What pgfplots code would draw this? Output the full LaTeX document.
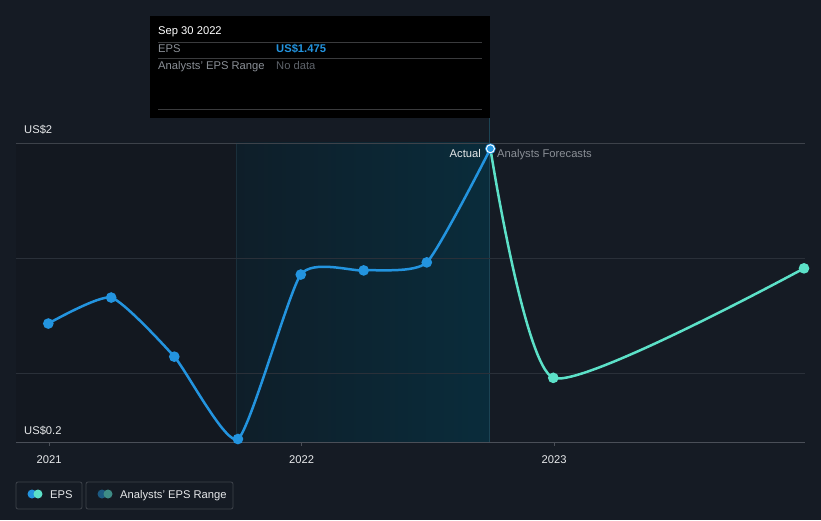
\documentclass[border=0pt]{standalone}
\usepackage{fontspec}
\setmainfont{Liberation Sans}
\usepackage{pgfplots}
\pgfplotsset{compat=1.18}
\definecolor{bgc}{HTML}{151B24}
\definecolor{leftc}{HTML}{131820}
\definecolor{hlL}{HTML}{0E1E29}
\definecolor{hlR}{HTML}{0A2C3B}
\definecolor{vlc}{HTML}{1C4454}
\definecolor{vlc2}{HTML}{1A2F3B}
\definecolor{gridc}{HTML}{2A3039}
\definecolor{gridtop}{HTML}{3D424A}
\definecolor{gridb}{HTML}{4A4F58}
\definecolor{epsblue}{HTML}{2394DF}
\definecolor{epsteal}{HTML}{5CE1C8}
\definecolor{rngblue}{HTML}{1C5A82}
\definecolor{rngteal}{HTML}{3E8C86}
\definecolor{labc}{HTML}{E6E8EA}
\definecolor{grayc}{HTML}{8A8F96}
\definecolor{dimc}{HTML}{5E636A}
\definecolor{ttline}{HTML}{3A3B3D}
\definecolor{legbord}{HTML}{3E434B}
\begin{document}
\begin{tikzpicture}[x=1pt,y=1pt,font=\fontsize{11.2}{13}\selectfont]
\fill[bgc] (0,0) rectangle (821,520);
% regions
\fill[leftc] (16,78) rectangle (236,377);
\shade[left color=hlL, right color=hlR] (236,78) rectangle (489,377);
\draw[vlc2, line width=0.8pt] (236.5,78) -- (236.5,377);
\draw[vlc, line width=1pt] (489,78) -- (489,402);
% grid
\draw[gridc, line width=0.9pt] (16,147) -- (805,147);
\draw[gridc, line width=0.9pt] (16,262) -- (805,262);
\draw[gridtop, line width=0.9pt] (16,377) -- (805,377);
\draw[gridb, line width=1pt] (16,78) -- (805,78);
\begin{axis}[
  at={(16pt,78pt)}, anchor=south west, scale only axis,
  width=789pt, height=299pt,
  xmin=2020.869, xmax=2023.994, ymin=0.2, ymax=1.5,
  axis line style={draw=none},
  ytick=\empty,
  xtick={2021,2022,2023},
  xticklabels={2021,2022,2023},
  xtick pos=bottom, tick align=outside, major tick length=4pt,
  x tick style={draw=gridb, line width=0.8pt},
  xticklabel style={text=labc, font=\fontsize{11.2}{13}\selectfont, anchor=base, inner sep=0pt, yshift=-17pt},
  /pgf/number format/assume math mode=true,
  clip=false,
]
\addplot[epsteal, line width=2.5pt, smooth, tension=0.33, mark=*, mark size=4pt,
  mark options={fill=epsteal, draw=none}, mark indices={2,3}]
  coordinates {(2022.748,1.475) (2022.997,0.479) (2023.99,0.955)};
\addplot[epsblue, line width=2.5pt, smooth, tension=0.33, mark=*, mark size=4pt,
  mark options={fill=epsblue, draw=none}]
  coordinates {(2020.997,0.715) (2021.246,0.828) (2021.496,0.571) (2021.748,0.213)
               (2021.997,0.928) (2022.246,0.946) (2022.496,0.981) (2022.748,1.475)};
\addplot[only marks, mark=*, mark size=4pt, mark options={fill=epsblue, draw=white, line width=1pt}]
  coordinates {(2022.748,1.475)};
\end{axis}
% axis value labels
\node[anchor=base west, text=labc, inner sep=0pt] at (24,386) {US\$2};
\node[anchor=base west, text=labc, inner sep=0pt] at (24,86) {US\$0.2};
\node[anchor=base east, text=labc, inner sep=0pt] at (481,362) {Actual};
\node[anchor=base west, text=grayc, inner sep=0pt] at (497,362) {Analysts Forecasts};
% tooltip
\fill[black] (150,402) rectangle (490,504);
\draw[ttline, line width=0.8pt] (158,478) -- (482,478);
\draw[ttline, line width=0.8pt] (158,462) -- (482,462);
\draw[ttline, line width=0.8pt] (158,411) -- (482,411);
\node[anchor=base west, text=white, inner sep=0pt] at (158,485) {Sep 30 2022};
\node[anchor=base west, text=grayc, inner sep=0pt] at (158,467) {EPS};
\node[anchor=base west, text=epsblue, inner sep=0pt] at (276,467) {\bfseries US\$1.475};
\node[anchor=base west, text=grayc, inner sep=0pt] at (158,450.5) {Analysts' EPS Range};
\node[anchor=base west, text=dimc, inner sep=0pt] at (276,450.5) {No data};
% legend
\draw[legbord, line width=0.8pt, rounded corners=2pt] (16,11) rectangle (82,38);
\fill[epsblue] (32,26) circle (4.5);
\fill[epsteal] (38,26) circle (4.5);
\node[anchor=base west, text=labc, inner sep=0pt] at (50,22) {EPS};
\draw[legbord, line width=0.8pt, rounded corners=2pt] (86,11) rectangle (233,38);
\fill[rngblue] (102,26) circle (4.5);
\fill[rngteal] (108,26) circle (4.5);
\node[anchor=base west, text=labc, inner sep=0pt] at (120,22) {Analysts' EPS Range};
\end{tikzpicture}
\end{document}
